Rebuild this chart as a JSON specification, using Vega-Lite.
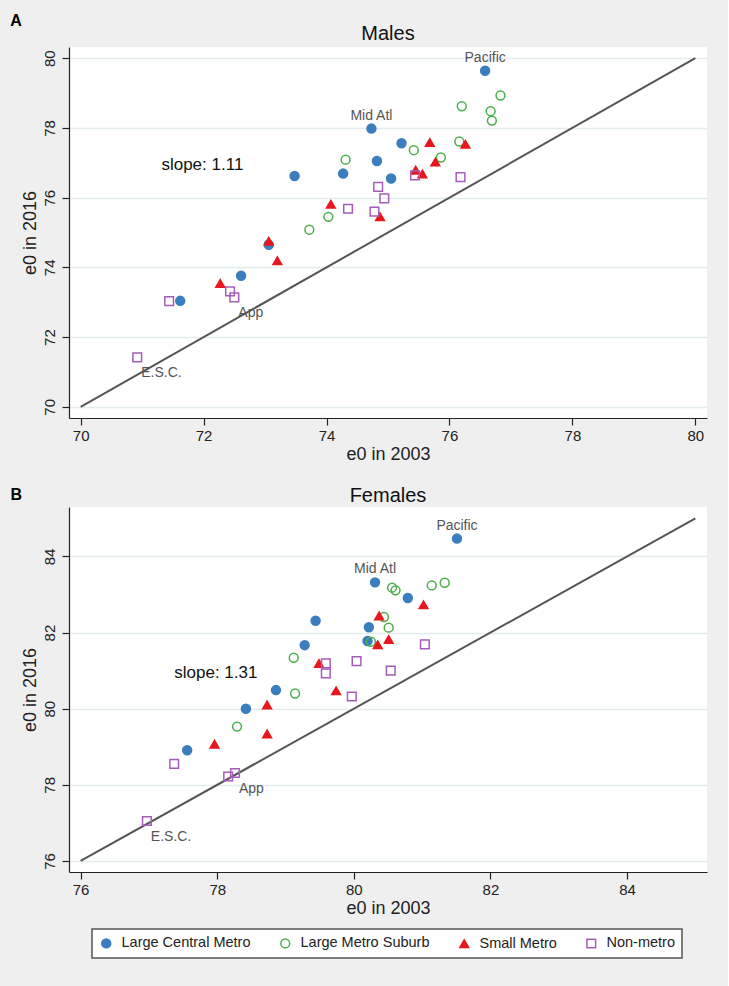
{
  "$schema": "https://vega.github.io/schema/vega-lite/v6.json",
  "background": "#efefef",
  "padding": {"left": 10, "top": 13, "right": 21, "bottom": 28},
  "config": {
    "font": "Liberation Sans",
    "view": {"fill": "white", "stroke": null},
    "axis": {
      "domainColor": "#222", "domainWidth": 1.2,
      "tickColor": "#222", "tickSize": 7, "tickWidth": 1.2,
      "labelFontSize": 15, "labelColor": "#222", "format": "d",
      "titleFontSize": 18, "titleFontWeight": "normal", "titleColor": "#222",
      "gridColor": "#e3ecef", "gridWidth": 1.5
    },
    "axisX": {"labelPadding": 3, "titlePadding": 2},
    "axisY": {"labelAngle": -90, "labelAlign": "center", "labelBaseline": "bottom", "labelPadding": 5, "titlePadding": 3},
    "title": {"fontSize": 20, "fontWeight": "normal", "color": "#111"},
    "legend": {
      "orient": "none", "legendX": 23, "legendY": 882, "direction": "horizontal", "title": null,
      "strokeColor": "#555", "strokeWidth": 1.5, "fillColor": "white", "padding": 7,
      "labelFontSize": 14.5, "labelColor": "#222",
      "columnPadding": 26, "labelOffset": 8, "symbolStrokeWidth": 1.5
    }
  },
  "datasets": {
    "pts": [
      {"panel": "Males", "type": "Large Central Metro", "e2003": 76.58, "e2016": 79.64, "label": "Pacific"},
      {"panel": "Males", "type": "Large Central Metro", "e2003": 74.73, "e2016": 77.98, "label": "Mid Atl"},
      {"panel": "Males", "type": "Large Central Metro", "e2003": 75.22, "e2016": 77.56, "label": ""},
      {"panel": "Males", "type": "Large Central Metro", "e2003": 74.82, "e2016": 77.05, "label": ""},
      {"panel": "Males", "type": "Large Central Metro", "e2003": 74.27, "e2016": 76.69, "label": ""},
      {"panel": "Males", "type": "Large Central Metro", "e2003": 73.48, "e2016": 76.62, "label": ""},
      {"panel": "Males", "type": "Large Central Metro", "e2003": 75.05, "e2016": 76.55, "label": ""},
      {"panel": "Males", "type": "Large Central Metro", "e2003": 73.06, "e2016": 74.65, "label": ""},
      {"panel": "Males", "type": "Large Central Metro", "e2003": 72.61, "e2016": 73.76, "label": ""},
      {"panel": "Males", "type": "Large Central Metro", "e2003": 71.62, "e2016": 73.04, "label": ""},
      {"panel": "Males", "type": "Large Metro Suburb", "e2003": 76.83, "e2016": 78.93, "label": ""},
      {"panel": "Males", "type": "Large Metro Suburb", "e2003": 76.20, "e2016": 78.62, "label": ""},
      {"panel": "Males", "type": "Large Metro Suburb", "e2003": 76.67, "e2016": 78.48, "label": ""},
      {"panel": "Males", "type": "Large Metro Suburb", "e2003": 76.69, "e2016": 78.21, "label": ""},
      {"panel": "Males", "type": "Large Metro Suburb", "e2003": 76.16, "e2016": 77.61, "label": ""},
      {"panel": "Males", "type": "Large Metro Suburb", "e2003": 75.42, "e2016": 77.36, "label": ""},
      {"panel": "Males", "type": "Large Metro Suburb", "e2003": 74.31, "e2016": 77.09, "label": ""},
      {"panel": "Males", "type": "Large Metro Suburb", "e2003": 75.86, "e2016": 77.15, "label": ""},
      {"panel": "Males", "type": "Large Metro Suburb", "e2003": 74.03, "e2016": 75.45, "label": ""},
      {"panel": "Males", "type": "Large Metro Suburb", "e2003": 73.72, "e2016": 75.08, "label": ""},
      {"panel": "Males", "type": "Small Metro", "e2003": 75.68, "e2016": 77.58, "label": ""},
      {"panel": "Males", "type": "Small Metro", "e2003": 76.26, "e2016": 77.53, "label": ""},
      {"panel": "Males", "type": "Small Metro", "e2003": 75.77, "e2016": 77.02, "label": ""},
      {"panel": "Males", "type": "Small Metro", "e2003": 75.45, "e2016": 76.79, "label": ""},
      {"panel": "Males", "type": "Small Metro", "e2003": 75.56, "e2016": 76.68, "label": ""},
      {"panel": "Males", "type": "Small Metro", "e2003": 74.07, "e2016": 75.81, "label": ""},
      {"panel": "Males", "type": "Small Metro", "e2003": 74.87, "e2016": 75.45, "label": ""},
      {"panel": "Males", "type": "Small Metro", "e2003": 73.06, "e2016": 74.75, "label": ""},
      {"panel": "Males", "type": "Small Metro", "e2003": 73.20, "e2016": 74.19, "label": ""},
      {"panel": "Males", "type": "Small Metro", "e2003": 72.27, "e2016": 73.54, "label": ""},
      {"panel": "Males", "type": "Non-metro", "e2003": 76.18, "e2016": 76.59, "label": ""},
      {"panel": "Males", "type": "Non-metro", "e2003": 75.44, "e2016": 76.64, "label": ""},
      {"panel": "Males", "type": "Non-metro", "e2003": 74.84, "e2016": 76.31, "label": ""},
      {"panel": "Males", "type": "Non-metro", "e2003": 74.94, "e2016": 75.98, "label": ""},
      {"panel": "Males", "type": "Non-metro", "e2003": 74.35, "e2016": 75.68, "label": ""},
      {"panel": "Males", "type": "Non-metro", "e2003": 74.78, "e2016": 75.60, "label": ""},
      {"panel": "Males", "type": "Non-metro", "e2003": 72.43, "e2016": 73.31, "label": ""},
      {"panel": "Males", "type": "Non-metro", "e2003": 72.50, "e2016": 73.14, "label": "App"},
      {"panel": "Males", "type": "Non-metro", "e2003": 71.44, "e2016": 73.03, "label": ""},
      {"panel": "Males", "type": "Non-metro", "e2003": 70.92, "e2016": 71.42, "label": "E.S.C."},
      {"panel": "Females", "type": "Large Central Metro", "e2003": 81.51, "e2016": 84.47, "label": "Pacific"},
      {"panel": "Females", "type": "Large Central Metro", "e2003": 80.31, "e2016": 83.32, "label": "Mid Atl"},
      {"panel": "Females", "type": "Large Central Metro", "e2003": 80.79, "e2016": 82.91, "label": ""},
      {"panel": "Females", "type": "Large Central Metro", "e2003": 79.44, "e2016": 82.31, "label": ""},
      {"panel": "Females", "type": "Large Central Metro", "e2003": 80.22, "e2016": 82.14, "label": ""},
      {"panel": "Females", "type": "Large Central Metro", "e2003": 80.20, "e2016": 81.78, "label": ""},
      {"panel": "Females", "type": "Large Central Metro", "e2003": 79.28, "e2016": 81.67, "label": ""},
      {"panel": "Females", "type": "Large Central Metro", "e2003": 78.86, "e2016": 80.49, "label": ""},
      {"panel": "Females", "type": "Large Central Metro", "e2003": 78.42, "e2016": 80.00, "label": ""},
      {"panel": "Females", "type": "Large Central Metro", "e2003": 77.56, "e2016": 78.91, "label": ""},
      {"panel": "Females", "type": "Large Metro Suburb", "e2003": 81.33, "e2016": 83.31, "label": ""},
      {"panel": "Females", "type": "Large Metro Suburb", "e2003": 81.14, "e2016": 83.24, "label": ""},
      {"panel": "Females", "type": "Large Metro Suburb", "e2003": 80.56, "e2016": 83.18, "label": ""},
      {"panel": "Females", "type": "Large Metro Suburb", "e2003": 80.61, "e2016": 83.11, "label": ""},
      {"panel": "Females", "type": "Large Metro Suburb", "e2003": 80.44, "e2016": 82.41, "label": ""},
      {"panel": "Females", "type": "Large Metro Suburb", "e2003": 80.51, "e2016": 82.13, "label": ""},
      {"panel": "Females", "type": "Large Metro Suburb", "e2003": 80.25, "e2016": 81.76, "label": ""},
      {"panel": "Females", "type": "Large Metro Suburb", "e2003": 79.12, "e2016": 81.34, "label": ""},
      {"panel": "Females", "type": "Large Metro Suburb", "e2003": 79.14, "e2016": 80.40, "label": ""},
      {"panel": "Females", "type": "Large Metro Suburb", "e2003": 78.29, "e2016": 79.53, "label": ""},
      {"panel": "Females", "type": "Small Metro", "e2003": 81.02, "e2016": 82.73, "label": ""},
      {"panel": "Females", "type": "Small Metro", "e2003": 80.37, "e2016": 82.44, "label": ""},
      {"panel": "Females", "type": "Small Metro", "e2003": 80.51, "e2016": 81.82, "label": ""},
      {"panel": "Females", "type": "Small Metro", "e2003": 80.35, "e2016": 81.68, "label": ""},
      {"panel": "Females", "type": "Small Metro", "e2003": 79.49, "e2016": 81.19, "label": ""},
      {"panel": "Females", "type": "Small Metro", "e2003": 79.74, "e2016": 80.47, "label": ""},
      {"panel": "Females", "type": "Small Metro", "e2003": 78.73, "e2016": 80.10, "label": ""},
      {"panel": "Females", "type": "Small Metro", "e2003": 78.73, "e2016": 79.34, "label": ""},
      {"panel": "Females", "type": "Small Metro", "e2003": 77.96, "e2016": 79.07, "label": ""},
      {"panel": "Females", "type": "Non-metro", "e2003": 81.04, "e2016": 81.69, "label": ""},
      {"panel": "Females", "type": "Non-metro", "e2003": 80.04, "e2016": 81.25, "label": ""},
      {"panel": "Females", "type": "Non-metro", "e2003": 79.59, "e2016": 81.19, "label": ""},
      {"panel": "Females", "type": "Non-metro", "e2003": 79.59, "e2016": 80.93, "label": ""},
      {"panel": "Females", "type": "Non-metro", "e2003": 80.54, "e2016": 81.00, "label": ""},
      {"panel": "Females", "type": "Non-metro", "e2003": 79.97, "e2016": 80.32, "label": ""},
      {"panel": "Females", "type": "Non-metro", "e2003": 77.37, "e2016": 78.55, "label": ""},
      {"panel": "Females", "type": "Non-metro", "e2003": 78.26, "e2016": 78.31, "label": "App"},
      {"panel": "Females", "type": "Non-metro", "e2003": 78.16, "e2016": 78.22, "label": ""},
      {"panel": "Females", "type": "Non-metro", "e2003": 76.97, "e2016": 77.05, "label": "E.S.C."}
    ],
    "ref": [
      {"panel": "Males", "v": 70},
      {"panel": "Males", "v": 80},
      {"panel": "Females", "v": 76},
      {"panel": "Females", "v": 85}
    ],
    "notes": [
      {"panel": "Males", "kind": "slope", "note": "slope: 1.11", "x": 71.98, "y": 76.94},
      {"panel": "Males", "kind": "letter", "note": "A", "x": 68.95, "y": 81.06},
      {"panel": "Females", "kind": "slope", "note": "slope: 1.31", "x": 77.98, "y": 80.95},
      {"panel": "Females", "kind": "letter", "note": "B", "x": 75.06, "y": 85.62}
    ]
  },
  "spacing": 22,
  "vconcat": [
    {
      "width": 638, "height": 371,
      "title": {"text": "Males", "offset": -31},
      "layer": [
        {
          "data": {"name": "ref"},
          "transform": [{"filter": "datum.panel == 'Males'"}],
          "mark": {"type": "line", "color": "#555", "strokeWidth": 2},
          "encoding": {
            "x": {"field": "v", "type": "quantitative", "scale": {"domain": [69.81, 80.19], "nice": false, "zero": false},
                  "axis": {"values": [70, 72, 74, 76, 78, 80], "title": "e0 in 2003", "grid": false}},
            "y": {"field": "v", "type": "quantitative", "scale": {"domain": [69.68, 80.32], "nice": false, "zero": false},
                  "axis": {"values": [70, 72, 74, 76, 78, 80], "title": "e0 in 2016", "grid": true}}
          }
        },
        {
          "data": {"name": "pts"},
          "transform": [{"filter": "datum.panel == 'Males'"}],
          "mark": {"type": "point", "opacity": 1, "strokeWidth": 1.5},
          "encoding": {
            "x": {"field": "e2003", "type": "quantitative"},
            "y": {"field": "e2016", "type": "quantitative"},
            "shape": {"field": "type", "type": "nominal", "scale": {"domain": ["Large Central Metro", "Large Metro Suburb", "Small Metro", "Non-metro"], "range": ["circle", "circle", "triangle-up", "square"]}},
            "size": {"field": "type", "type": "nominal", "scale": {"domain": ["Large Central Metro", "Large Metro Suburb", "Small Metro", "Non-metro"], "range": [80, 75, 120, 75]}},
            "fill": {"field": "type", "type": "nominal", "scale": {"domain": ["Large Central Metro", "Large Metro Suburb", "Small Metro", "Non-metro"], "range": ["#3a7ebf", "transparent", "#e8161d", "transparent"]}},
            "stroke": {"field": "type", "type": "nominal", "scale": {"domain": ["Large Central Metro", "Large Metro Suburb", "Small Metro", "Non-metro"], "range": ["#3a7ebf", "#4cae4c", "#e8161d", "#a45dba"]}}
          }
        },
        {
          "data": {"name": "pts"},
          "transform": [{"filter": "datum.panel == 'Males' && (datum.label == 'Pacific' || datum.label == 'Mid Atl')"}],
          "mark": {"type": "text", "fontSize": 14, "color": "#555", "dy": -13, "baseline": "middle", "align": "center"},
          "encoding": {
            "x": {"field": "e2003", "type": "quantitative"},
            "y": {"field": "e2016", "type": "quantitative"},
            "text": {"field": "label"}
          }
        },
        {
          "data": {"name": "pts"},
          "transform": [{"filter": "datum.panel == 'Males' && (datum.label == 'App' || datum.label == 'E.S.C.')"}],
          "mark": {"type": "text", "fontSize": 14, "color": "#555", "dx": 4, "dy": 16, "baseline": "middle", "align": "left"},
          "encoding": {
            "x": {"field": "e2003", "type": "quantitative"},
            "y": {"field": "e2016", "type": "quantitative"},
            "text": {"field": "label"}
          }
        },
        {
          "data": {"name": "notes"},
          "transform": [{"filter": "datum.panel == 'Males' && datum.kind == 'slope'"}],
          "mark": {"type": "text", "fontSize": 17, "color": "#111", "baseline": "middle", "align": "center"},
          "encoding": {
            "x": {"field": "x", "type": "quantitative"},
            "y": {"field": "y", "type": "quantitative"},
            "text": {"field": "note"}
          }
        },
        {
          "data": {"name": "notes"},
          "transform": [{"filter": "datum.panel == 'Males' && datum.kind == 'letter'"}],
          "mark": {"type": "text", "fontSize": 16, "fontWeight": "bold", "color": "#000", "baseline": "middle", "align": "center"},
          "encoding": {
            "x": {"field": "x", "type": "quantitative"},
            "y": {"field": "y", "type": "quantitative"},
            "text": {"field": "note"}
          }
        }
      ]
    },
    {
      "width": 638, "height": 365,
      "title": {"text": "Females", "offset": -19},
      "layer": [
        {
          "data": {"name": "ref"},
          "transform": [{"filter": "datum.panel == 'Females'"}],
          "mark": {"type": "line", "color": "#555", "strokeWidth": 2},
          "encoding": {
            "x": {"field": "v", "type": "quantitative", "scale": {"domain": [75.83, 85.17], "nice": false, "zero": false},
                  "axis": {"values": [76, 78, 80, 82, 84], "title": "e0 in 2003", "grid": false}},
            "y": {"field": "v", "type": "quantitative", "scale": {"domain": [75.71, 85.30], "nice": false, "zero": false},
                  "axis": {"values": [76, 78, 80, 82, 84], "title": "e0 in 2016", "grid": true}}
          }
        },
        {
          "data": {"name": "pts"},
          "transform": [{"filter": "datum.panel == 'Females'"}],
          "mark": {"type": "point", "opacity": 1, "strokeWidth": 1.5},
          "encoding": {
            "x": {"field": "e2003", "type": "quantitative"},
            "y": {"field": "e2016", "type": "quantitative"},
            "shape": {"field": "type", "type": "nominal", "scale": {"domain": ["Large Central Metro", "Large Metro Suburb", "Small Metro", "Non-metro"], "range": ["circle", "circle", "triangle-up", "square"]}},
            "size": {"field": "type", "type": "nominal", "scale": {"domain": ["Large Central Metro", "Large Metro Suburb", "Small Metro", "Non-metro"], "range": [80, 75, 120, 75]}},
            "fill": {"field": "type", "type": "nominal", "scale": {"domain": ["Large Central Metro", "Large Metro Suburb", "Small Metro", "Non-metro"], "range": ["#3a7ebf", "transparent", "#e8161d", "transparent"]}},
            "stroke": {"field": "type", "type": "nominal", "scale": {"domain": ["Large Central Metro", "Large Metro Suburb", "Small Metro", "Non-metro"], "range": ["#3a7ebf", "#4cae4c", "#e8161d", "#a45dba"]}}
          }
        },
        {
          "data": {"name": "pts"},
          "transform": [{"filter": "datum.panel == 'Females' && (datum.label == 'Pacific' || datum.label == 'Mid Atl')"}],
          "mark": {"type": "text", "fontSize": 14, "color": "#555", "dy": -13, "baseline": "middle", "align": "center"},
          "encoding": {
            "x": {"field": "e2003", "type": "quantitative"},
            "y": {"field": "e2016", "type": "quantitative"},
            "text": {"field": "label"}
          }
        },
        {
          "data": {"name": "pts"},
          "transform": [{"filter": "datum.panel == 'Females' && (datum.label == 'App' || datum.label == 'E.S.C.')"}],
          "mark": {"type": "text", "fontSize": 14, "color": "#555", "dx": 4, "dy": 16, "baseline": "middle", "align": "left"},
          "encoding": {
            "x": {"field": "e2003", "type": "quantitative"},
            "y": {"field": "e2016", "type": "quantitative"},
            "text": {"field": "label"}
          }
        },
        {
          "data": {"name": "notes"},
          "transform": [{"filter": "datum.panel == 'Females' && datum.kind == 'slope'"}],
          "mark": {"type": "text", "fontSize": 17, "color": "#111", "baseline": "middle", "align": "center"},
          "encoding": {
            "x": {"field": "x", "type": "quantitative"},
            "y": {"field": "y", "type": "quantitative"},
            "text": {"field": "note"}
          }
        },
        {
          "data": {"name": "notes"},
          "transform": [{"filter": "datum.panel == 'Females' && datum.kind == 'letter'"}],
          "mark": {"type": "text", "fontSize": 16, "fontWeight": "bold", "color": "#000", "baseline": "middle", "align": "center"},
          "encoding": {
            "x": {"field": "x", "type": "quantitative"},
            "y": {"field": "y", "type": "quantitative"},
            "text": {"field": "note"}
          }
        }
      ]
    }
  ],
  "resolve": {"scale": {"x": "independent", "y": "independent"}}
}
